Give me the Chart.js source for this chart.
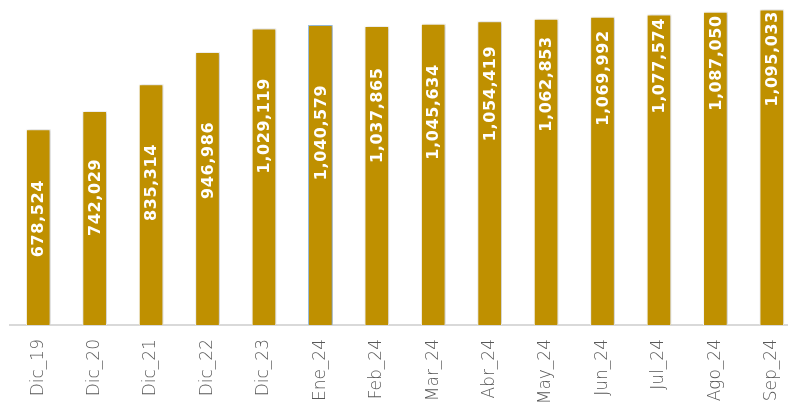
<!DOCTYPE html>
<html>
<head>
<meta charset="utf-8">
<script src="https://cdn.jsdelivr.net/npm/chart.js@4.4.1/dist/chart.umd.min.js"></script>
<style>
    html, body { margin: 0; padding: 0; background: #fff; overflow: hidden; }
    #wrap { width: 788px; height: 404px; overflow: hidden; }
</style>
</head>
<body>
<div id="wrap">
    <canvas id="barChart" width="802" height="404"></canvas>
</div>
<script>
const categories = ["Dic_19", "Dic_20", "Dic_21", "Dic_22", "Dic_23", "Ene_24", "Feb_24",
    "Mar_24", "Abr_24", "May_24", "Jun_24", "Jul_24", "Ago_24", "Sep_24"];

const totals = [678524, 742029, 835314, 946986, 1029119, 1040579, 1037865,
    1045634, 1054419, 1062853, 1069992, 1077574, 1087050, 1095033];

// where each value label sits, px below the bar top (hand placed in the original)
const labelOffsets = [89, 86, 98, 108, 97, 107, 89, 88, 72, 65, 61, 51, 51, 49];

const GOLD = "#BF9000";

/**
 * Soft shadow behind the bars
 */
const barShadow = {
    id: "barShadow",
    beforeDatasetsDraw(chart) {
        const ctx = chart.ctx;
        ctx.save();
        ctx.shadowColor = "rgba(0,0,0,0.28)";
        ctx.shadowBlur = 3;
        ctx.shadowOffsetX = 1;
        ctx.shadowOffsetY = 0;
    },
    afterDatasetsDraw(chart) {
        chart.ctx.restore();
    }
};

/**
 * Vertical value labels inside the bars
 */
const valueLabels = {
    id: "valueLabels",
    afterDraw(chart) {
        const ctx = chart.ctx;
        const meta = chart.getDatasetMeta(0);
        ctx.save();
        ctx.fillStyle = "#ffffff";
        ctx.font = "bold 16px 'DejaVu Sans'";
        ctx.letterSpacing = "0.6px";
        ctx.textAlign = "center";
        ctx.textBaseline = "middle";
        meta.data.forEach((bar, i) => {
            const txt = totals[i].toLocaleString("en-US");
            ctx.save();
            ctx.translate(bar.x + 1, bar.y + labelOffsets[i]);
            ctx.rotate(-Math.PI / 2);
            ctx.fillText(txt, 0, 0);
            ctx.restore();
        });
        ctx.restore();
    }
};

function buildChart() {
    const ctx = document.getElementById("barChart");

    const borders = categories.map(c => c === "Ene_24" ? "#9DC3E6" : "#ffffff");

    new Chart(ctx, {
        type: "bar",
        data: {
            labels: categories,
            datasets: [{
                data: totals,
                backgroundColor: GOLD,
                borderColor: borders,
                borderWidth: 1,
                barThickness: 24
            }]
        },
        options: {
            responsive: false,
            animation: false,
            layout: { padding: { left: 10, right: 2, top: 0, bottom: 0 } },
            plugins: {
                legend: { display: false },
                tooltip: { enabled: false }
            },
            scales: {
                x: {
                    grid: { display: false, drawTicks: false },
                    border: { display: true, color: "#D9D9D9", width: 2 },
                    ticks: {
                        color: "#595959",
                        font: { family: "'DejaVu Sans'", size: 17, weight: "300" },
                        minRotation: 90,
                        maxRotation: 90,
                        padding: 14
                    },
                    afterFit(scale) {
                        scale.height = 79;
                        // don't let the rotated labels push the plot inwards
                        scale.paddingLeft = 0;
                        scale.paddingRight = 0;
                    }
                },
                y: {
                    display: false,
                    min: 0,
                    max: 1129000
                }
            }
        },
        plugins: [barShadow, valueLabels]
    });
}

buildChart();
</script>
</body>
</html>
